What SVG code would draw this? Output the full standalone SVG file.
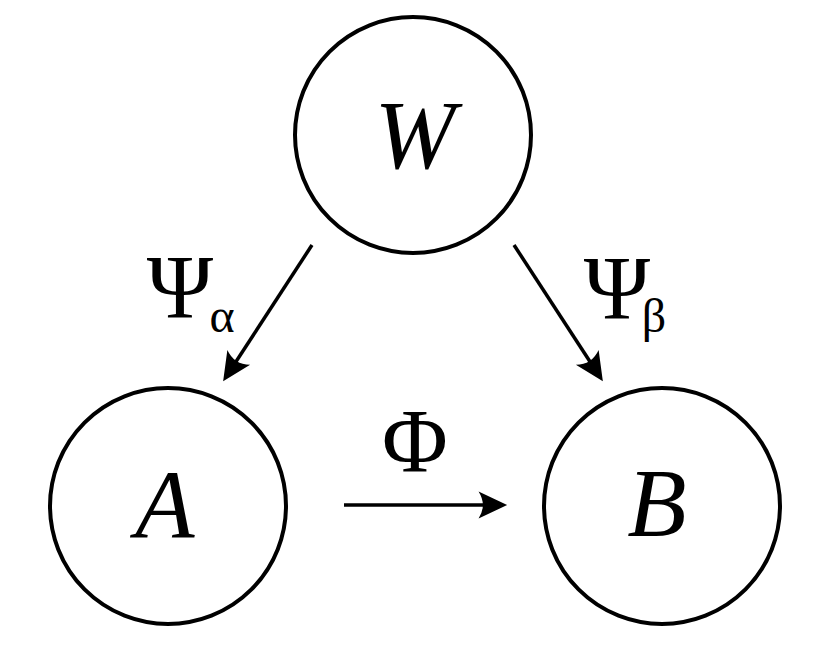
<svg xmlns="http://www.w3.org/2000/svg" width="824" height="662" viewBox="0 0 824 662">
<style>
.node{fill:#fff;stroke:#000;stroke-width:4}
.edge{stroke:#000;stroke-width:3.5;fill:none}
.lbl{font-family:'Liberation Serif','Times New Roman',serif;fill:#000}
.it{font-style:italic;font-size:97px}
.gr{font-size:90px}
.sub{font-size:48px}
</style>
<defs>
<marker id="ah" markerUnits="userSpaceOnUse" orient="auto" refX="0" refY="0" markerWidth="40" markerHeight="40" viewBox="-12 -12 28 24" overflow="visible">
<path d="M12,0 L-8,-9.5 Q-2,0 -8,9.5 Z" fill="#000"/>
</marker>
</defs>
<rect width="824" height="662" fill="#fff"/>
<g id="node-W">
<circle class="node" cx="413" cy="135" r="118"/>
<text class="lbl it" x="415" y="168" text-anchor="middle">W</text>
</g>
<g id="node-A">
<circle class="node" cx="168" cy="506" r="118"/>
<text class="lbl it" x="165" y="537" text-anchor="middle">A</text>
</g>
<g id="node-B">
<circle class="node" cx="662" cy="506" r="118"/>
<text class="lbl it" x="657" y="536" text-anchor="middle">B</text>
</g>
<g id="connectors">
<line class="edge" x1="312" y1="245" x2="232.5" y2="367" marker-end="url(#ah)"/>
<line class="edge" x1="514" y1="245" x2="593.5" y2="367" marker-end="url(#ah)"/>
<line class="edge" x1="344" y1="505" x2="490" y2="505" marker-end="url(#ah)"/>
</g>
<g id="labels">
<text class="lbl gr" x="180" y="318" text-anchor="middle">Ψ</text>
<text class="lbl sub" x="222" y="332" text-anchor="middle">α</text>
<text class="lbl gr" x="617" y="319" text-anchor="middle">Ψ</text>
<text class="lbl sub" x="654" y="332" text-anchor="middle">β</text>
<text class="lbl gr" x="415" y="472" text-anchor="middle">Φ</text>
</g>
</svg>
